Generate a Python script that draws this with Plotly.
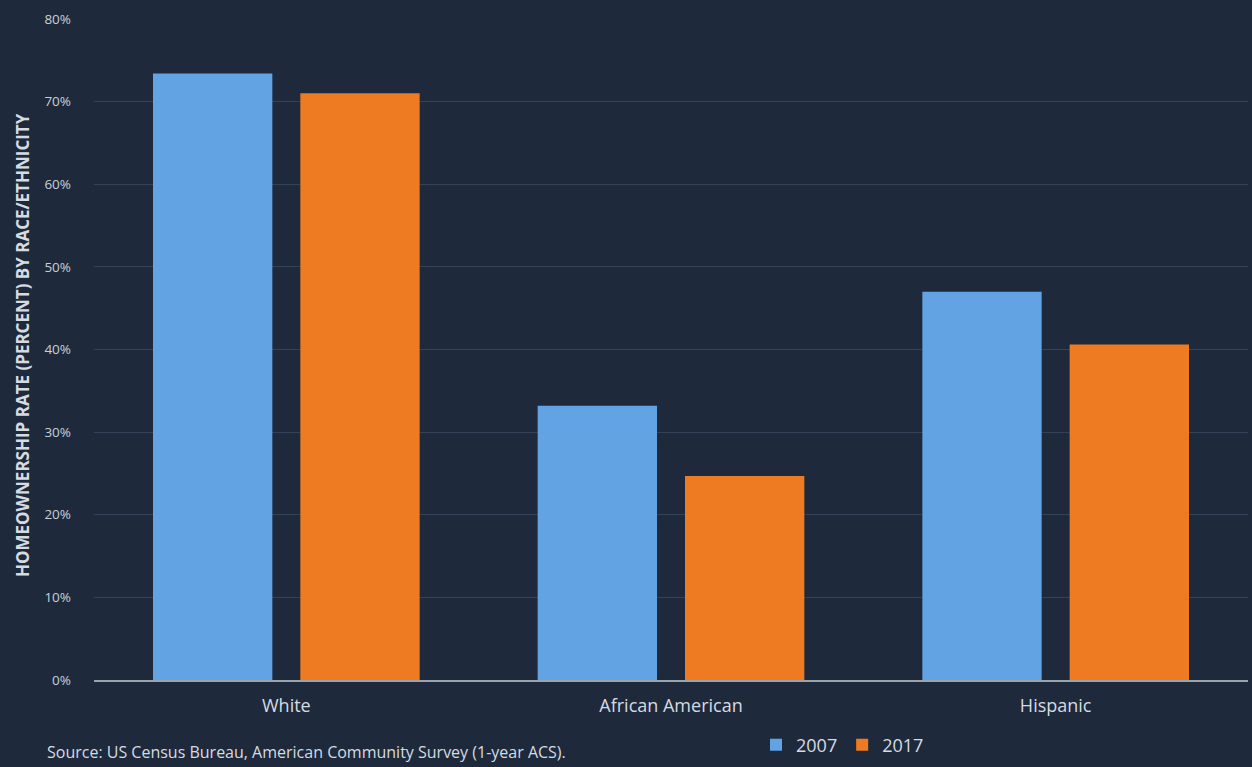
import plotly.graph_objects as go

categories = ["White", "African American", "Hispanic"]
series_names = ["2007", "2017"]
values_2007 = [73.4, 33.2, 47.0]
values_2017 = [71.0, 24.7, 40.6]
y_ticks = [0, 10, 20, 30, 40, 50, 60, 70, 80]
y_tick_labels = ["0%", "10%", "20%", "30%", "40%", "50%", "60%", "70%", "80%"]

BG = "#1e2a3b"
TXT = "#d6dbe2"
FONT = "'Open Sans', sans-serif"

fig = go.Figure()
fig.add_trace(go.Bar(x=categories, y=values_2007, name=series_names[0],
                     marker=dict(color="#62a3e3", line=dict(width=0))))
fig.add_trace(go.Bar(x=categories, y=values_2017, name=series_names[1],
                     marker=dict(color="#ee7b22", line=dict(width=0))))

W, H = 1252, 767
ml, mr, mt, mb = 94, 4, 19, 87
fig.update_layout(
    width=W, height=H,
    margin=dict(l=ml, r=mr, t=mt, b=mb),
    paper_bgcolor=BG, plot_bgcolor=BG,
    barmode="group", bargap=0.234, bargroupgap=0.19,
    font=dict(family=FONT, color=TXT, size=14),
    showlegend=True,
    legend=dict(orientation="h", x=(756 - ml) / (W - ml - mr), xanchor="left",
                y=-(745 - (H - mb)) / (H - mt - mb), yanchor="middle",
                font=dict(size=18, color=TXT), bgcolor="rgba(0,0,0,0)",
                itemwidth=30, traceorder="normal"),
    xaxis=dict(showgrid=False, showline=True, linecolor="#9aa3ad", linewidth=1.5,
               tickfont=dict(size=18, color=TXT), ticks="", ticklabelstandoff=9),
    yaxis=dict(range=[0, 80], tickvals=y_ticks, ticktext=y_tick_labels,
               showgrid=True, gridcolor="#334258", gridwidth=1, zeroline=False,
               showline=False, tickfont=dict(size=13.5, color="#c9d0d8"), ticklabelstandoff=22),
    annotations=[
        dict(text="<b>HOMEOWNERSHIP RATE (PERCENT) BY RACE/ETHNICITY</b>", textangle=-90,
             xref="paper", yref="paper", x=(22 - ml) / (W - ml - mr), y=(680 - 345) / (680 - 19),
             xanchor="center", yanchor="middle", showarrow=False,
             font=dict(size=17, color=TXT)),
        dict(text="Source: US Census Bureau, American Community Survey (1-year ACS).",
             xref="paper", yref="paper", x=(45 - ml) / (W - ml - mr),
             y=-(765 - (H - mb)) / (H - mt - mb), xanchor="left", yanchor="bottom",
             showarrow=False, font=dict(size=16, color=TXT)),
    ],
)
fig.write_html("out.html")
